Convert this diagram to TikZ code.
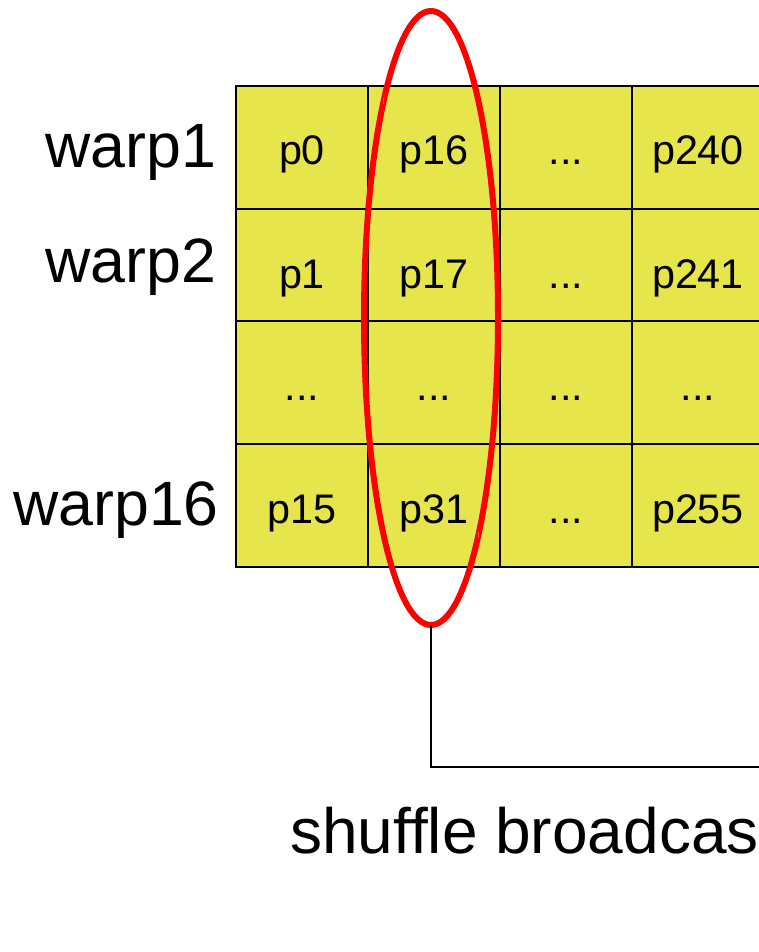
\documentclass[tikz,border=0pt]{standalone}
\usepackage{fontspec}
\setmainfont{Liberation Sans}
\usepackage{xcolor}
\usetikzlibrary{positioning,shapes.geometric}

\definecolor{cellfill}{RGB}{230,230,76}

\begin{document}
\begin{tikzpicture}[
    x=0.75pt, y=-0.75pt,
    cell/.style={draw, line width=0.8pt, fill=cellfill, minimum width=99pt,
                 minimum height=92.25pt, inner sep=0pt, outer sep=0pt,
                 font=\fontsize{31pt}{37pt}\selectfont,
                 text height=31pt, text depth=4.75pt},
    warp/.style={anchor=base west, inner sep=0pt, font=\fontsize{47pt}{56pt}\selectfont},
    sel/.style={draw=red, line width=4.5pt, ellipse, minimum width=100.5pt,
                minimum height=460.5pt, inner sep=0pt, outer sep=0pt},
    grip/.style={draw=red!70, line width=0.6pt},
    link/.style={draw, line width=0.8pt},
]
\useasboundingbox (0,0) rectangle (758,952);

% Warp rows
\node[cell] (p0) at (302,147.5) {p0};
\node[cell, right=0pt of p0]     (p16)  {p16};
\node[cell, right=0pt of p16]    (d1)   {...};
\node[cell, right=0pt of d1]     (p240) {p240};

\node[cell, below=0pt of p0]     (p1)   {p1};
\node[cell, right=0pt of p1]     (p17)  {p17};
\node[cell, right=0pt of p17]    (d2)   {...};
\node[cell, right=0pt of d2]     (p241) {p241};

\node[cell, below=-8.25pt of p1] (d3)   {...};
\node[cell, right=0pt of d3]     (d4)   {...};
\node[cell, right=0pt of d4]     (d5)   {...};
\node[cell, right=0pt of d5]     (d6)   {...};

\node[cell, below=0pt of d3]     (p15)  {p15};
\node[cell, right=0pt of p15]    (p31)  {p31};
\node[cell, right=0pt of p31]    (d7)   {...};
\node[cell, right=0pt of d7]     (p255) {p255};

% Row labels
\node[warp] (w1)  at (45,168)  {warp1};
\node[warp] (w2)  at (45,282)  {warp2};
\node[warp] (w16) at (13,525)  {warp16};

% Selected column
\node[sel] (col) at (431,318) {};
\draw[grip] ([yshift=2pt]col.north west) -- ([yshift=-2pt]col.north west);
\draw[grip] ([yshift=2pt]col.south east) -- ([yshift=-2pt]col.south east);

% Broadcast link
\coordinate (bc) at (790,767);
\draw[link] (col.south) |- (bc);
\node[warp, font=\fontsize{48pt}{57pt}\selectfont] (shuf) at (290,853) {shuffle broadcas};

\end{tikzpicture}
\end{document}
